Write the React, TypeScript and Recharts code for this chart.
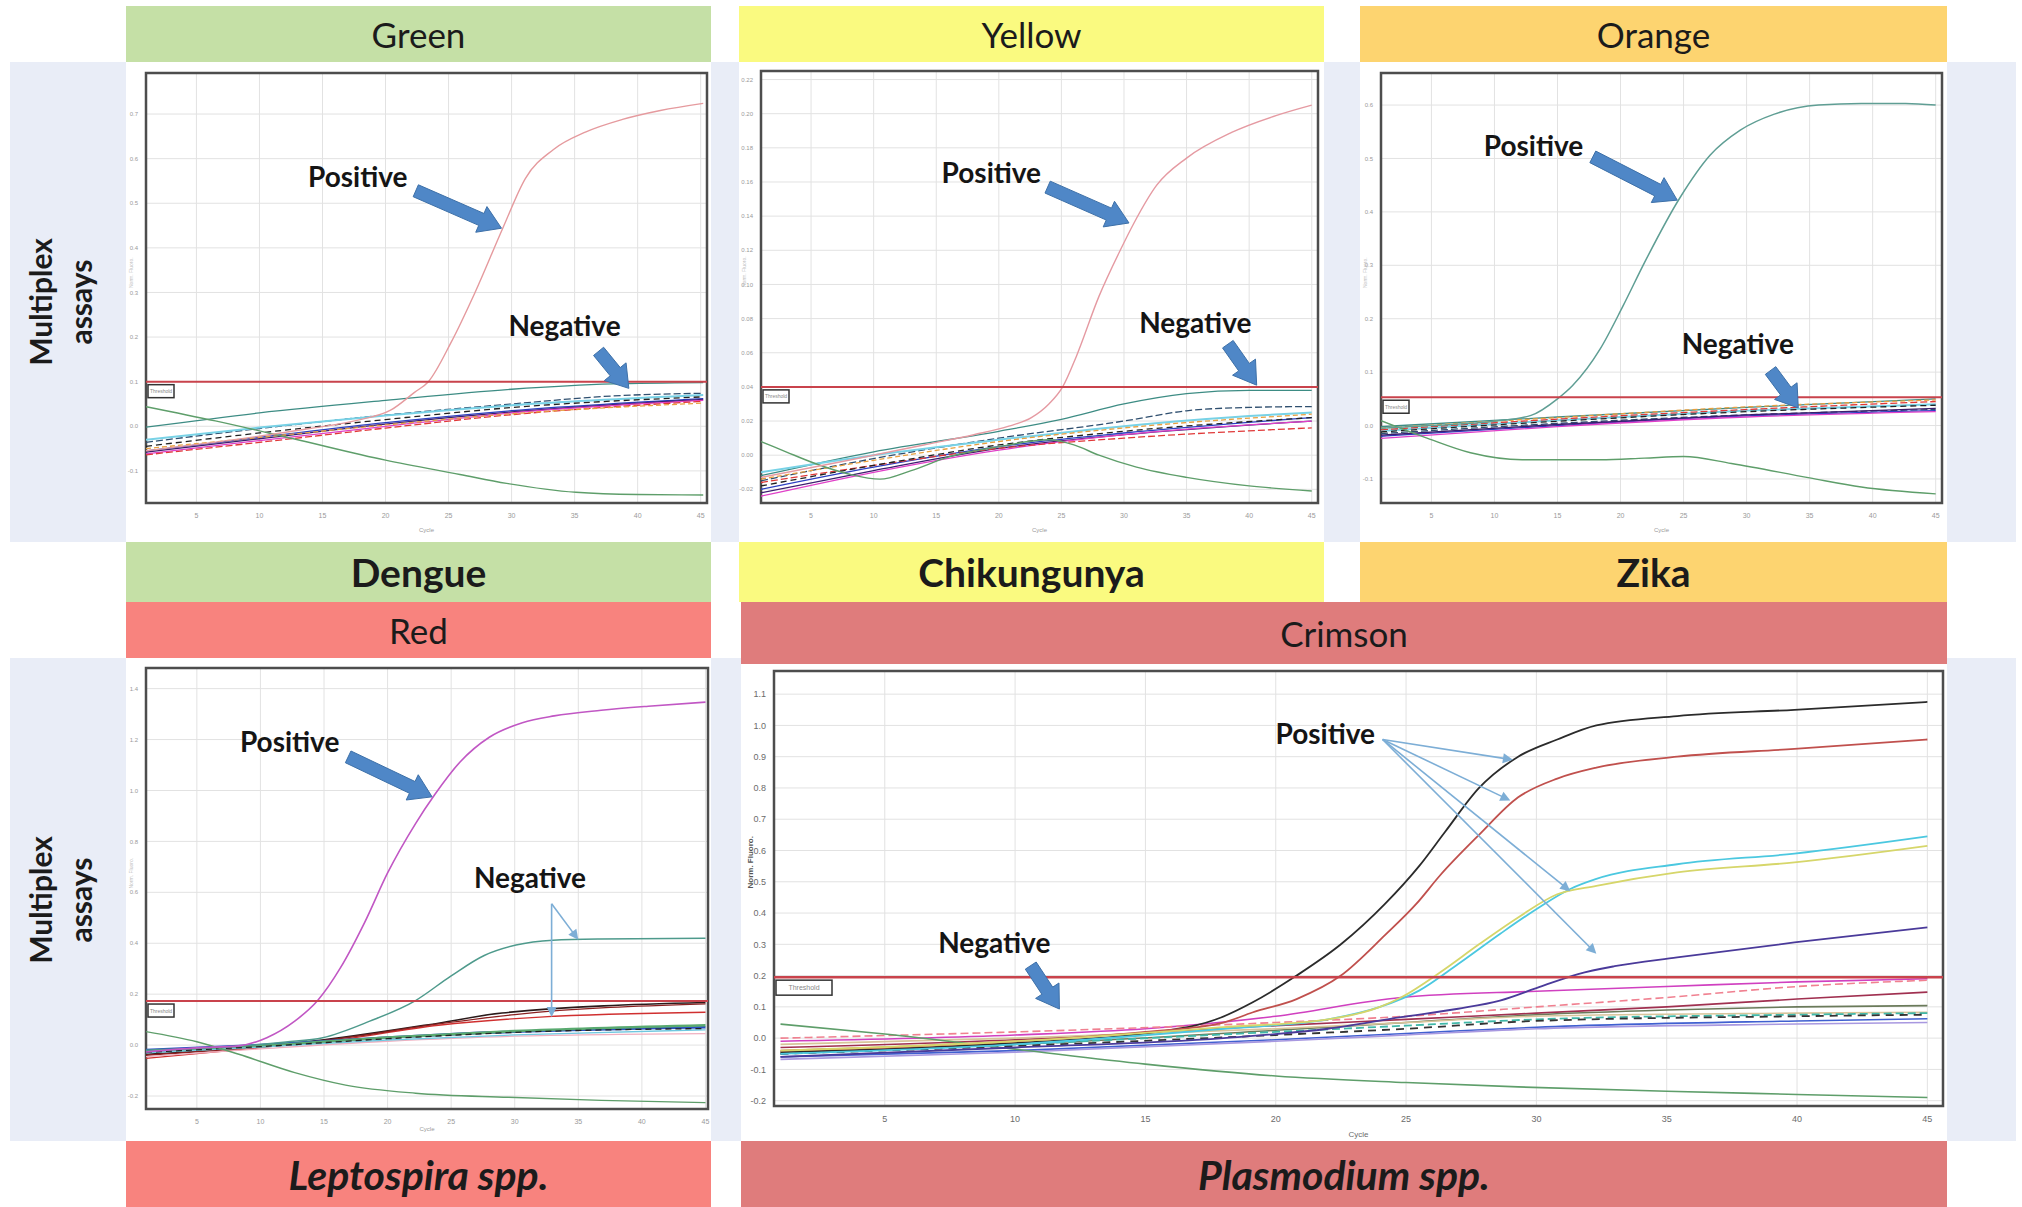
import {
  CartesianGrid,
  Line,
  LineChart,
  ReferenceArea,
  ReferenceDot,
  ReferenceLine,
  XAxis,
  YAxis,
} from "recharts";

type Pt = [number, number];
type Style = { color: string; dash?: string; width?: number };

const FONT = "Lato, 'Open Sans', sans-serif";
const TICK_FONT = "'Liberation Sans', Arial, sans-serif";

const GREEN = "#C5E0A6";
const YELLOW = "#FAFA80";
const ORANGE = "#FDD470";
const RED = "#F8837E";
const CRIMSON = "#DF7C7C";
const LAVENDER = "#E9EDF7";

const ARROW_FILL = "#4F87C7";
const ARROW_EDGE = "#3D70A8";
const THIN_ARROW = "#7DAED6";
const THRESHOLD = "#C9434C";
const DECLINE = "#5E9E6A";

// every run is read over the same 45 cycles
const CYCLE_TICKS = [5, 10, 15, 20, 25, 30, 35, 40, 45];

// ---------- Dengue, Green channel
const DENGUE_Y_TICKS = [-0.1, 0, 0.1, 0.2, 0.3, 0.4, 0.5, 0.6, 0.7];
const DENGUE_THRESHOLD = 0.1;
const denguePositive: Pt[] = [
  [1, -0.055], [8, -0.03], [14, -0.005], [18, 0.015], [20.4, 0.036], [22.3, 0.076], [23.4, 0.1],
  [25.2, 0.188], [27.1, 0.3], [29.3, 0.444], [31.1, 0.556], [33.3, 0.62], [35.9, 0.66],
  [38.8, 0.688], [41.8, 0.708], [45.2, 0.724],
];
const dengueNegative: Pt[][] = [
  [[1, -0.002], [10, 0.03], [20, 0.058], [30, 0.083], [38, 0.095], [45.2, 0.098]],
  [[1, -0.036], [10, -0.005], [20, 0.025], [30, 0.05], [38, 0.068], [45.2, 0.074]],
  [[1, -0.03], [10, -0.003], [20, 0.024], [30, 0.047], [45.2, 0.07]],
  [[1, -0.055], [10, -0.025], [20, 0.008], [30, 0.035], [45.2, 0.062]],
  [[1, -0.058], [10, -0.028], [20, 0.005], [30, 0.032], [45.2, 0.06]],
  [[1, -0.062], [10, -0.032], [20, 0.0], [30, 0.03], [45.2, 0.058]],
  [[1, -0.064], [10, -0.036], [20, -0.004], [30, 0.026], [45.2, 0.056]],
  [[1, -0.045], [10, -0.015], [20, 0.015], [30, 0.042], [45.2, 0.066]],
  [[1, -0.05], [10, -0.025], [20, 0.003], [30, 0.028], [45.2, 0.052]],
];
const dengueDecline: Pt[] = [
  [1, 0.044], [6.5, 0.012], [12.7, -0.028], [20, -0.076], [25.9, -0.108], [29.6, -0.128],
  [35.1, -0.148], [40, -0.153], [45.2, -0.154],
];

// ---------- Chikungunya, Yellow channel
const CHIK_Y_TICKS = [-0.02, 0, 0.02, 0.04, 0.06, 0.08, 0.1, 0.12, 0.14, 0.16, 0.18, 0.2, 0.22];
const CHIK_THRESHOLD = 0.04;
const chikPositive: Pt[] = [
  [1, -0.013], [8, -0.003], [14, 0.006], [18, 0.012], [20.8, 0.017], [22.6, 0.022], [24, 0.03],
  [25.1, 0.04], [26.2, 0.058], [28, 0.093], [29.7, 0.12], [30.8, 0.136], [32.6, 0.158],
  [35, 0.174], [38.6, 0.189], [42.2, 0.199], [45, 0.205],
];
const chikNegative: Pt[][] = [
  [[1, -0.012], [10, 0.002], [20, 0.014], [25, 0.021], [30, 0.03], [35, 0.036], [40, 0.038], [45, 0.038]],
  [[1, -0.015], [10, -0.002], [20, 0.01], [30, 0.02], [35, 0.026], [40, 0.028], [45, 0.0285]],
  [[1, -0.01], [10, 0.0], [20, 0.009], [30, 0.017], [40, 0.023], [45, 0.025]],
  [[1, -0.02], [10, -0.007], [20, 0.005], [30, 0.013], [45, 0.022]],
  [[1, -0.022], [10, -0.009], [20, 0.004], [30, 0.012], [45, 0.02]],
  [[1, -0.024], [10, -0.01], [20, 0.003], [30, 0.012], [45, 0.02]],
  [[1, -0.016], [10, -0.006], [20, 0.004], [30, 0.01], [45, 0.016]],
  [[1, -0.018], [10, -0.006], [20, 0.006], [30, 0.014], [45, 0.022]],
  [[1, -0.014], [10, -0.003], [20, 0.008], [30, 0.016], [45, 0.024]],
];
const chikDecline: Pt[] = [
  [1, 0.008], [3, 0.002], [5, -0.004], [8, -0.011], [10.5, -0.014], [13, -0.009], [16, -0.001],
  [20, 0.005], [24, 0.009], [26, 0.006], [28, 0.0], [31, -0.007], [35, -0.013], [40, -0.018], [45, -0.021],
];

// ---------- Zika, Orange channel
const ZIKA_Y_TICKS = [-0.1, 0, 0.1, 0.2, 0.3, 0.4, 0.5, 0.6];
const ZIKA_THRESHOLD = 0.053;
const zikaPositive: Pt[] = [
  [1, -0.005], [5, 0.0], [10, 0.008], [12.9, 0.019], [15, 0.05], [16.2, 0.075], [18.4, 0.144],
  [20.2, 0.224], [21.9, 0.305], [24.7, 0.426], [27.1, 0.506], [29.5, 0.553], [32.2, 0.583],
  [35.7, 0.6], [39.1, 0.603], [42.6, 0.603], [45, 0.6],
];
const zikaNegative: Pt[][] = [
  [[1, -0.002], [15, 0.016], [30, 0.034], [45, 0.05]],
  [[1, -0.015], [15, 0.004], [30, 0.02], [45, 0.03]],
  [[1, -0.01], [15, 0.01], [30, 0.028], [45, 0.04]],
  [[1, -0.02], [15, 0.0], [30, 0.018], [45, 0.028]],
  [[1, -0.018], [15, 0.002], [30, 0.02], [45, 0.032]],
  [[1, -0.024], [15, -0.002], [30, 0.016], [45, 0.026]],
  [[1, -0.008], [15, 0.012], [30, 0.03], [45, 0.045]],
  [[1, -0.012], [15, 0.008], [30, 0.026], [45, 0.038]],
  [[1, -0.005], [15, 0.015], [30, 0.035], [45, 0.048]],
];
const zikaDecline: Pt[] = [
  [1, 0.009], [4.7, -0.024], [8.1, -0.051], [12.2, -0.064], [18.4, -0.064], [21.9, -0.061],
  [25, -0.058], [28.8, -0.071], [35, -0.098], [39.1, -0.115], [45, -0.128],
];

// ---------- Leptospira, Red channel
const LEPTO_Y_TICKS = [-0.2, 0, 0.2, 0.4, 0.6, 0.8, 1.0, 1.2, 1.4];
const LEPTO_THRESHOLD = 0.173;
const leptoPositive: Pt[] = [
  [1, -0.027], [5, -0.011], [8.3, -0.003], [10.5, 0.029], [12.7, 0.094], [14.5, 0.175],
  [16.3, 0.304], [18.2, 0.482], [20, 0.676], [22.2, 0.87], [23.7, 0.983], [25.7, 1.112],
  [28, 1.209], [30.6, 1.266], [33.1, 1.293], [36.8, 1.315], [40.5, 1.331], [45, 1.347],
];
const leptoLate: Pt[] = [
  [1, -0.02], [8, -0.005], [12, 0.012], [14.9, 0.029], [18.6, 0.094], [22.2, 0.175], [25, 0.272],
  [27.6, 0.352], [30.1, 0.393], [33, 0.412], [36.7, 0.417], [45, 0.42],
];
const leptoNegative: Pt[][] = [
  [[1, -0.036], [10, -0.005], [15, 0.021], [24, 0.086], [29, 0.126], [45, 0.167]],
  [[1, -0.052], [10, -0.01], [15, 0.013], [24, 0.078], [32, 0.11], [45, 0.129]],
  [[1, -0.04], [10, -0.006], [15, 0.018], [24, 0.083], [30, 0.12], [45, 0.162]],
  [[1, -0.019], [10, 0.0], [20, 0.03], [26, 0.045], [45, 0.07]],
  [[1, -0.025], [10, -0.004], [20, 0.03], [30, 0.055], [45, 0.078]],
  [[1, -0.045], [10, -0.015], [20, 0.015], [30, 0.035], [45, 0.045]],
  [[1, -0.03], [10, -0.008], [20, 0.02], [30, 0.04], [45, 0.06]],
  [[1, -0.028], [10, -0.006], [20, 0.025], [30, 0.05], [45, 0.065]],
];
const leptoDecline: Pt[] = [
  [1, 0.053], [5, 0.013], [8.3, -0.036], [12.7, -0.108], [16.7, -0.157], [22.2, -0.189],
  [29.5, -0.205], [36.8, -0.217], [45, -0.226],
];

// ---------- Plasmodium, Crimson channel
const PLASMO_Y_TICKS = [-0.2, -0.1, 0, 0.1, 0.2, 0.3, 0.4, 0.5, 0.6, 0.7, 0.8, 0.9, 1.0, 1.1];
const PLASMO_THRESHOLD = 0.195;
const plasmoPositive: Pt[][] = [
  [[1, -0.045], [5, -0.035], [10, -0.015], [15, 0.015], [17.9, 0.066], [19.1, 0.114], [20.8, 0.2],
    [22.5, 0.3], [24.2, 0.43], [25.5, 0.55], [26.5, 0.66], [27.8, 0.8], [29.3, 0.9], [30.8, 0.955],
    [32.3, 1.0], [35.4, 1.03], [39.9, 1.05], [45, 1.075]],
  [[1, -0.04], [5, -0.03], [10, -0.01], [15, 0.02], [18, 0.05], [19.1, 0.082], [20.8, 0.125],
    [22.5, 0.2], [24.2, 0.33], [25.4, 0.43], [26.3, 0.52], [27.8, 0.65], [29.3, 0.77], [30.8, 0.83],
    [32.3, 0.865], [35.4, 0.9], [39.9, 0.925], [45, 0.955]],
  [[1, -0.05], [10, -0.02], [18, 0.03], [22, 0.06], [24, 0.1], [25.5, 0.152], [27, 0.237],
    [28.6, 0.333], [30.1, 0.418], [31.3, 0.477], [32.3, 0.509], [35.4, 0.556], [39.9, 0.59], [45, 0.645]],
  [[1, -0.04], [10, -0.01], [18, 0.035], [22, 0.06], [24, 0.1], [24.8, 0.13], [26.3, 0.21],
    [27.8, 0.3], [29.3, 0.386], [30.8, 0.46], [32.3, 0.487], [35.4, 0.53], [39.9, 0.562], [45, 0.615]],
  [[1, -0.06], [10, -0.03], [18, 0.0], [22, 0.03], [24.8, 0.067], [27, 0.094], [28.6, 0.12],
    [30.1, 0.163], [31.6, 0.205], [33, 0.23], [35.4, 0.258], [39.9, 0.306], [45, 0.354]],
];
const plasmoNegative: Pt[][] = [
  [[1, -0.01], [10, 0.01], [15, 0.03], [20, 0.07], [24.8, 0.13], [30, 0.15], [35, 0.165], [40, 0.18], [45, 0.19]],
  [[1, 0.0], [10, 0.02], [20, 0.05], [25, 0.07], [30, 0.1], [35, 0.13], [40, 0.165], [45, 0.185]],
  [[1, -0.03], [10, -0.005], [20, 0.04], [25, 0.06], [30, 0.08], [35, 0.1], [40, 0.125], [45, 0.147]],
  [[1, -0.045], [10, -0.02], [20, 0.025], [25, 0.05], [30, 0.075], [35, 0.09], [40, 0.1], [45, 0.104]],
  [[1, -0.02], [10, 0.0], [20, 0.03], [25, 0.05], [30, 0.07], [40, 0.08], [45, 0.083]],
  [[1, -0.05], [10, -0.02], [20, 0.02], [25, 0.04], [30, 0.06], [40, 0.075], [45, 0.08]],
  [[1, -0.05], [10, -0.025], [20, 0.01], [25, 0.03], [30, 0.055], [40, 0.07], [45, 0.075]],
  [[1, -0.06], [10, -0.04], [20, -0.005], [25, 0.015], [30, 0.035], [40, 0.055], [45, 0.062]],
  [[1, -0.068], [10, -0.045], [20, -0.01], [25, 0.01], [30, 0.03], [40, 0.045], [45, 0.05]],
];
const plasmoDecline: Pt[] = [
  [1, 0.045], [5, 0.013], [10, -0.035], [15, -0.083], [20, -0.121], [25, -0.142], [29.3, -0.156],
  [35, -0.17], [40, -0.18], [45, -0.19],
];

// line styles for the sample traces in each channel
const SMALL_CLUSTER: Style[] = [
  { color: "#3D8C84" },
  { color: "#2F4F6F", dash: "7 3" },
  { color: "#78D2E6", width: 2 },
  { color: "#2B3FC2" },
  { color: "#3B1E6E" },
  { color: "#E040C8" },
  { color: "#E03838", dash: "7 3" },
  { color: "#222222", dash: "6 4" },
  { color: "#E8A040", dash: "5 3" },
];
const LEPTO_CLUSTER: Style[] = [
  { color: "#2A1A1A", width: 1.6 },
  { color: "#D03030" },
  { color: "#8A2020" },
  { color: "#2A4FC0", width: 2.6 },
  { color: "#5AAA70", width: 2.6 },
  { color: "#F0B0C0" },
  { color: "#70C8E0" },
  { color: "#222222", dash: "6 4" },
];
const PLASMO_POS_STYLES: Style[] = [
  { color: "#2B2B2B", width: 1.8 },
  { color: "#C0504D", width: 1.8 },
  { color: "#4BC8E0", width: 1.8 },
  { color: "#D6D66A", width: 1.8 },
  { color: "#4A3A9A", width: 1.8 },
];
const PLASMO_NEG_STYLES: Style[] = [
  { color: "#D040C0", width: 1.6 },
  { color: "#F08090", dash: "8 4", width: 1.6 },
  { color: "#A03050", width: 1.6 },
  { color: "#6A7A5A", width: 1.6 },
  { color: "#D8C49A", width: 1.6 },
  { color: "#40B8A8", dash: "8 4", width: 1.8 },
  { color: "#333333", dash: "8 6", width: 1.8 },
  { color: "#4060D0", width: 1.6 },
  { color: "#A898E0", width: 1.6 },
];

type Curve = { pts: Pt[] } & Style;
type Callout = { label: string; at: Pt; arrows: [Pt, Pt][]; thin?: boolean };

const rows = (pts: Pt[]) => pts.map(([x, y]) => ({ x, y }));
const withStyles = (sets: Pt[][], styles: Style[]): Curve[] =>
  sets.map((pts, i) => ({ pts, ...styles[i % styles.length] }));

function fatArrow(p: any) {
  const { x1, y1, x2, y2 } = p;
  const dx = x2 - x1;
  const dy = y2 - y1;
  const len = Math.hypot(dx, dy);
  const ux = dx / len;
  const uy = dy / len;
  const shaft = 6.5;
  const head = 14;
  const hl = Math.min(22, len * 0.45);
  const at = (a: number, b: number) => `${x1 + ux * a - uy * b},${y1 + uy * a + ux * b}`;
  const pts = [at(0, -shaft), at(len - hl, -shaft), at(len - hl, -head), at(len, 0),
    at(len - hl, head), at(len - hl, shaft), at(0, shaft)].join(" ");
  return <polygon points={pts} fill={ARROW_FILL} stroke={ARROW_EDGE} strokeWidth={1} />;
}

function thinArrow(p: any) {
  const { x1, y1, x2, y2 } = p;
  const dx = x2 - x1;
  const dy = y2 - y1;
  const len = Math.hypot(dx, dy);
  const ux = dx / len;
  const uy = dy / len;
  const at = (a: number, b: number) => `${x1 + ux * a - uy * b},${y1 + uy * a + ux * b}`;
  return (
    <g>
      <line x1={x1} y1={y1} x2={x2 - ux * 6} y2={y2 - uy * 6} stroke={THIN_ARROW} strokeWidth={1.6} />
      <polygon points={[at(len, 0), at(len - 10, -5), at(len - 10, 5)].join(" ")} fill={THIN_ARROW} />
    </g>
  );
}

const thresholdTag = (w: number, h: number, fs: number) => (p: any) => (
  <g>
    <rect x={p.cx + 2} y={p.cy + 3} width={w} height={h} fill="#fff" stroke="#333" strokeWidth={1.5} />
    <text x={p.cx + 2 + w / 2} y={p.cy + 3 + h / 2} textAnchor="middle" dominantBaseline="central"
      fontSize={fs} fill="#888" fontFamily={TICK_FONT}>Threshold</text>
  </g>
);

const calloutText = (label: string) => (p: any) => (
  <text x={p.cx} y={p.cy} textAnchor="middle" dominantBaseline="central" fontFamily={FONT}
    fontWeight={700} fontSize={28} fill="#151515">{label}</text>
);

type PanelProps = {
  left: number;
  top: number;
  width: number;
  height: number;
  marginTop: number;
  marginRight: number;
  yWidth: number;
  xHeight: number;
  xDomain: [number, number];
  yDomain: [number, number];
  yTicks: number[];
  digits: number;
  threshold: number;
  curves: Curve[];
  callouts: Callout[];
  big?: boolean;
};

function AmpPanel(props: PanelProps) {
  const { xDomain, yDomain, big } = props;
  const tickSize = big ? 9 : 6;
  const tickFill = big ? "#6b6b6b" : "#9a9a9a";
  return (
    <div style={{ position: "absolute", left: props.left, top: props.top, background: "#fff" }}>
      <LineChart width={props.width} height={props.height}
        margin={{ top: props.marginTop, right: props.marginRight, left: 0, bottom: 0 }}>
        <CartesianGrid stroke="#E2E2E2" strokeWidth={1} />
        <XAxis type="number" dataKey="x" domain={xDomain} ticks={CYCLE_TICKS} allowDataOverflow
          height={props.xHeight} axisLine={false} tickLine={false} tickMargin={4}
          tick={{ fontSize: big ? 9 : 7, fill: tickFill, fontFamily: TICK_FONT }}
          label={{ value: "Cycle", position: "insideBottom", offset: big ? 4 : 10, fontSize: big ? 8 : 6, fill: tickFill, fontFamily: TICK_FONT }} />
        <YAxis type="number" domain={yDomain} ticks={props.yTicks} allowDataOverflow width={props.yWidth}
          axisLine={false} tickLine={false} tickMargin={2}
          tickFormatter={(v: number) => v.toFixed(props.digits)}
          tick={{ fontSize: tickSize, fill: tickFill, fontFamily: TICK_FONT }}
          label={{ value: "Norm. Fluoro.", angle: -90, position: "insideLeft", offset: big ? 9 : 5, fontSize: big ? 8 : 5, fill: big ? "#555" : "#c0c0c0", fontFamily: TICK_FONT, fontWeight: big ? 700 : 400 }} />
        {props.curves.map((c, i) => (
          <Line key={i} data={rows(c.pts)} dataKey="y" type="monotone" stroke={c.color}
            strokeWidth={c.width ?? 1.3} strokeDasharray={c.dash} dot={false} activeDot={false}
            isAnimationActive={false} />
        ))}
        <ReferenceLine y={props.threshold} stroke={THRESHOLD} strokeWidth={big ? 2.5 : 2} />
        <ReferenceArea x1={xDomain[0]} x2={xDomain[1]} y1={yDomain[0]} y2={yDomain[1]}
          fill="none" stroke="#4d4d4d" strokeWidth={2.5} ifOverflow="visible" />
        <ReferenceDot x={xDomain[0]} y={props.threshold} r={1} ifOverflow="visible"
          shape={big ? thresholdTag(56, 15, 7) : thresholdTag(26, 13, 5)} />
        {props.callouts.flatMap((c, i) =>
          c.arrows.map(([a, b], j) => (
            <ReferenceLine key={`a${i}-${j}`} ifOverflow="visible"
              segment={[{ x: a[0], y: a[1] }, { x: b[0], y: b[1] }]}
              shape={c.thin ? thinArrow : fatArrow} />
          )),
        )}
        {props.callouts.map((c, i) => (
          <ReferenceDot key={`t${i}`} x={c.at[0]} y={c.at[1]} r={1} ifOverflow="visible"
            shape={calloutText(c.label)} />
        ))}
      </LineChart>
    </div>
  );
}

function Band(p: { x: number; y: number; w: number; h: number; bg: string; text: string; size: number; bold?: boolean; italic?: boolean }) {
  return (
    <div style={{
      position: "absolute", left: p.x, top: p.y, width: p.w, height: p.h, background: p.bg,
      display: "flex", alignItems: "center", justifyContent: "center", fontSize: p.size,
      fontWeight: p.bold ? 700 : 400, fontStyle: p.italic ? "italic" : "normal", color: "#1b1b1b",
    }}>
      {p.text}
    </div>
  );
}

function SideLabel({ top, height }: { top: number; height: number }) {
  return (
    <div style={{ position: "absolute", left: 10, top, width: 100, height, display: "flex", alignItems: "center", justifyContent: "center" }}>
      <div style={{ transform: "rotate(-90deg)", fontWeight: 700, fontSize: 30, lineHeight: "40px", textAlign: "center", whiteSpace: "nowrap", color: "#1b1b1b" }}>
        Multiplex<br />assays
      </div>
    </div>
  );
}

const smallDecline = (pts: Pt[]): Curve => ({ pts, color: DECLINE, width: 1.4 });

export default function App() {
  return (
    <div style={{ position: "absolute", left: 0, top: 0, width: 2022, height: 1207, background: "#fff", fontFamily: FONT, overflow: "hidden" }}>
      <div style={{ position: "absolute", left: 10, top: 62, width: 2006, height: 480, background: LAVENDER }} />
      <div style={{ position: "absolute", left: 10, top: 658, width: 2006, height: 483, background: LAVENDER }} />

      <Band x={126} y={6} w={585} h={56} bg={GREEN} text="Green" size={35} />
      <Band x={739} y={6} w={585} h={56} bg={YELLOW} text="Yellow" size={35} />
      <Band x={1360} y={6} w={587} h={56} bg={ORANGE} text="Orange" size={35} />

      <SideLabel top={62} height={480} />
      <SideLabel top={658} height={483} />

      <AmpPanel left={126} top={62} width={585} height={480} marginTop={11} marginRight={4} yWidth={20} xHeight={39}
        xDomain={[1, 45.5]} yDomain={[-0.172, 0.792]} yTicks={DENGUE_Y_TICKS} digits={1} threshold={DENGUE_THRESHOLD}
        curves={[
          ...withStyles(dengueNegative, SMALL_CLUSTER),
          smallDecline(dengueDecline),
          { pts: denguePositive, color: "#E59A9E", width: 1.4 },
        ]}
        callouts={[
          { label: "Positive", at: [17.8, 0.56], arrows: [[[22.4, 0.528], [29.2, 0.444]]] },
          { label: "Negative", at: [34.2, 0.228], arrows: [[[36.9, 0.168], [39.3, 0.085]]] },
        ]} />
      <AmpPanel left={739} top={62} width={585} height={480} marginTop={9} marginRight={6} yWidth={22} xHeight={39}
        xDomain={[1, 45.5]} yDomain={[-0.028, 0.225]} yTicks={CHIK_Y_TICKS} digits={2} threshold={CHIK_THRESHOLD}
        curves={[
          ...withStyles(chikNegative, SMALL_CLUSTER),
          smallDecline(chikDecline),
          { pts: chikPositive, color: "#E59AA2", width: 1.4 },
        ]}
        callouts={[
          { label: "Positive", at: [19.4, 0.166], arrows: [[[23.9, 0.157], [30.4, 0.136]]] },
          { label: "Negative", at: [35.7, 0.078], arrows: [[[38.3, 0.065], [40.6, 0.041]]] },
        ]} />
      <AmpPanel left={1360} top={62} width={587} height={480} marginTop={11} marginRight={5} yWidth={21} xHeight={39}
        xDomain={[1, 45.5]} yDomain={[-0.145, 0.66]} yTicks={ZIKA_Y_TICKS} digits={1} threshold={ZIKA_THRESHOLD}
        curves={[
          ...withStyles(zikaNegative, SMALL_CLUSTER),
          smallDecline(zikaDecline),
          { pts: zikaPositive, color: "#5F9E94", width: 1.5 },
        ]}
        callouts={[
          { label: "Positive", at: [13.1, 0.526], arrows: [[[17.8, 0.503], [24.5, 0.422]]] },
          { label: "Negative", at: [29.3, 0.154], arrows: [[[31.9, 0.103], [34.1, 0.033]]] },
        ]} />

      <Band x={126} y={542} w={585} h={60} bg={GREEN} text="Dengue" size={39} bold />
      <Band x={739} y={542} w={585} h={60} bg={YELLOW} text="Chikungunya" size={39} bold />
      <Band x={1360} y={542} w={587} h={60} bg={ORANGE} text="Zika" size={39} bold />

      <Band x={126} y={602} w={585} h={56} bg={RED} text="Red" size={35} />
      <Band x={741} y={602} w={1206} h={62} bg={CRIMSON} text="Crimson" size={35} />

      <AmpPanel left={126} top={658} width={585} height={483} marginTop={10} marginRight={3} yWidth={20} xHeight={32}
        xDomain={[1, 45.2]} yDomain={[-0.251, 1.481]} yTicks={LEPTO_Y_TICKS} digits={1} threshold={LEPTO_THRESHOLD}
        curves={[
          ...withStyles(leptoNegative, LEPTO_CLUSTER),
          smallDecline(leptoDecline),
          { pts: leptoLate, color: "#4E9A8C", width: 1.5 },
          { pts: leptoPositive, color: "#C157C4", width: 1.6 },
        ]}
        callouts={[
          { label: "Positive", at: [12.3, 1.193], arrows: [[[16.9, 1.132], [23.5, 0.975]]] },
          { label: "Negative", at: [31.2, 0.66], thin: true,
            arrows: [[[32.9, 0.555], [35, 0.414]], [[32.9, 0.555], [32.9, 0.11]]] },
        ]} />
      <AmpPanel left={741} top={664} width={1206} height={477} marginTop={7} marginRight={4} yWidth={33} xHeight={35}
        xDomain={[0.75, 45.6]} yDomain={[-0.217, 1.174]} yTicks={PLASMO_Y_TICKS} digits={1} threshold={PLASMO_THRESHOLD} big
        curves={[
          ...withStyles(plasmoNegative, PLASMO_NEG_STYLES),
          { pts: plasmoDecline, color: DECLINE, width: 1.6 },
          ...withStyles(plasmoPositive, PLASMO_POS_STYLES),
        ]}
        callouts={[
          { label: "Positive", at: [21.9, 0.975], thin: true,
            arrows: [
              [[24.1, 0.955], [29.1, 0.89]],
              [[24.1, 0.955], [29.0, 0.76]],
              [[24.1, 0.955], [31.3, 0.47]],
              [[24.1, 0.955], [32.3, 0.27]],
            ] },
          { label: "Negative", at: [9.2, 0.307], arrows: [[[10.6, 0.232], [11.7, 0.093]]] },
        ]} />

      <Band x={126} y={1141} w={585} h={66} bg={RED} text="Leptospira spp." size={41} bold italic />
      <Band x={741} y={1141} w={1206} h={66} bg={CRIMSON} text="Plasmodium spp." size={41} bold italic />
    </div>
  );
}
